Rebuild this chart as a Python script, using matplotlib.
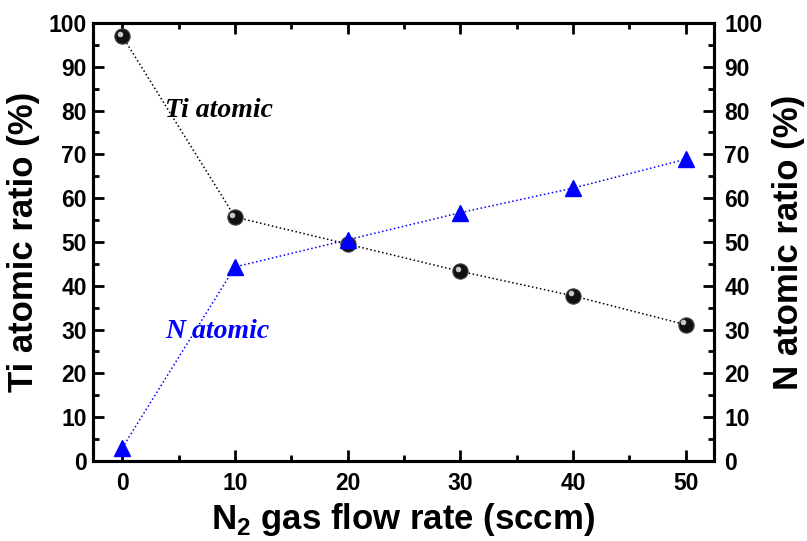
import matplotlib.pyplot as plt
import matplotlib.transforms as mtransforms
from matplotlib.ticker import MultipleLocator

flow = [0, 10, 20, 30, 40, 50]
ti_ratio = [97.0, 55.7, 49.5, 43.3, 37.7, 31.1]
n_ratio = [3.0, 44.3, 50.5, 56.7, 62.3, 68.9]

plt.rcParams['font.family'] = 'Liberation Sans'
plt.rcParams['font.weight'] = 'bold'

fig = plt.figure(figsize=(8.07, 5.41), dpi=100)
ax = fig.add_axes([0.1152, 0.1479, 0.7696, 0.8096])
ax2 = ax.twinx()

# Ti series: black "spheres" joined by a dotted line
ax.plot(flow, ti_ratio, ls=':', color='black', lw=1.1, zorder=2)
ax.plot(flow, ti_ratio, ls='none', marker='o', ms=11, mfc='#111111',
        mec='#444444', mew=0.8, zorder=3)
shift = mtransforms.ScaledTranslation(-1.8 / 72, 1.8 / 72, fig.dpi_scale_trans)
ax.plot(flow, ti_ratio, ls='none', marker='o', ms=4, mfc='#c8c8c8',
        mec='none', transform=ax.transData + shift, zorder=4)

# N series: blue triangles
ax2.plot(flow, n_ratio, ls=':', color='blue', lw=1.1, marker='^', ms=12,
         mfc='blue', mec='blue')

ax.text(3.8, 80, 'Ti atomic', family='Liberation Serif', style='italic',
        weight='bold', fontsize=20, va='center', ha='left')
ax.text(3.8, 29.5, 'N atomic', family='Liberation Serif', style='italic',
        weight='bold', fontsize=20, color='blue', va='center', ha='left')

for a in (ax, ax2):
    a.set_xlim(-2.6, 52.5)
    a.set_ylim(0, 100)
    a.yaxis.set_major_locator(MultipleLocator(10))
    a.yaxis.set_minor_locator(MultipleLocator(5))
    for s in a.spines.values():
        s.set_linewidth(2.2)

ax.xaxis.set_major_locator(MultipleLocator(10))
ax.xaxis.set_minor_locator(MultipleLocator(5))
ax.tick_params(which='major', direction='in', length=8, width=2,
               labelsize=16.5, top=True, pad=4.5)
ax.tick_params(which='minor', direction='in', length=4.5, width=2, top=True)
ax.tick_params(axis='x', which='major', pad=8)
ax2.tick_params(which='major', direction='in', length=8, width=2,
                labelsize=16.5, pad=7.5)
ax2.tick_params(which='minor', direction='in', length=4.5, width=2)

ax.set_ylabel('Ti atomic ratio (%)', fontsize=25, fontweight='bold', labelpad=6)
ax2.set_ylabel('N atomic ratio (%)', fontsize=25, fontweight='bold', labelpad=7)
ax.set_xlabel('N$_\\mathregular{2}$ gas flow rate (sccm)', fontsize=25,
              fontweight='bold', labelpad=4)

fig.savefig('out.png', dpi=100)
